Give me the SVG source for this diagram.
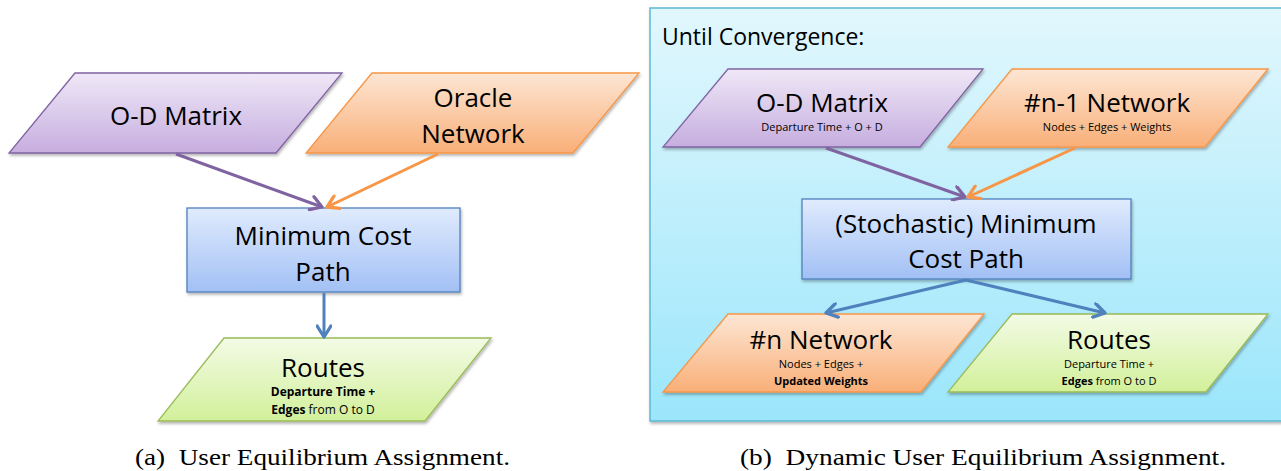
<svg xmlns="http://www.w3.org/2000/svg" width="1281" height="471" viewBox="0 0 1281 471">
<defs>
<linearGradient id="gP" x1="0" y1="0" x2="0" y2="1"><stop offset="0" stop-color="#efe8f7"/><stop offset="1" stop-color="#c6addf"/></linearGradient>
<linearGradient id="gO" x1="0" y1="0" x2="0" y2="1"><stop offset="0" stop-color="#fde6d4"/><stop offset="1" stop-color="#f9af78"/></linearGradient>
<linearGradient id="gB" x1="0" y1="0" x2="0" y2="1"><stop offset="0" stop-color="#e0ebfd"/><stop offset="1" stop-color="#a2c0f5"/></linearGradient>
<linearGradient id="gG" x1="0" y1="0" x2="0" y2="1"><stop offset="0" stop-color="#f3fbe6"/><stop offset="1" stop-color="#d2f09a"/></linearGradient>
<linearGradient id="gC" x1="0" y1="0" x2="0" y2="1"><stop offset="0" stop-color="#e2f7fd"/><stop offset="1" stop-color="#9be6fb"/></linearGradient>
<filter id="sh" x="-5%" y="-5%" width="115%" height="120%"><feDropShadow dx="1" dy="2" stdDeviation="1.5" flood-color="#000" flood-opacity="0.3"/></filter>
<marker id="aP" viewBox="0 0 12 12" refX="10" refY="6" markerWidth="5.5" markerHeight="5.5" markerUnits="strokeWidth" orient="auto"><path d="M2,1 L10,6 L2,11" fill="none" stroke="#8064a2" stroke-width="2.4" stroke-linecap="round" stroke-linejoin="round"/></marker>
<marker id="aO" viewBox="0 0 12 12" refX="10" refY="6" markerWidth="5.5" markerHeight="5.5" markerUnits="strokeWidth" orient="auto"><path d="M2,1 L10,6 L2,11" fill="none" stroke="#f79646" stroke-width="2.4" stroke-linecap="round" stroke-linejoin="round"/></marker>
<marker id="aB" viewBox="0 0 12 12" refX="10" refY="6" markerWidth="5.5" markerHeight="5.5" markerUnits="strokeWidth" orient="auto"><path d="M2,1 L10,6 L2,11" fill="none" stroke="#4f81bd" stroke-width="2.4" stroke-linecap="round" stroke-linejoin="round"/></marker>
</defs>
<style>
text{font-family:"Open Sans","Liberation Sans",sans-serif;fill:#000;text-anchor:middle}
.big{font-size:26px}
.sm{font-size:11px}
.sm12{font-size:12px}
.b{font-weight:bold}
.cap{font-family:"Liberation Serif",serif;font-size:23px;text-anchor:start;white-space:pre}
.pP{fill:url(#gP);stroke:#8064a2;stroke-width:1.3;filter:url(#sh)}
.pO{fill:url(#gO);stroke:#f79646;stroke-width:1.3;filter:url(#sh)}
.pB{fill:url(#gB);stroke:#4f81bd;stroke-width:1.3;filter:url(#sh)}
.pG{fill:url(#gG);stroke:#9bbb59;stroke-width:1.3;filter:url(#sh)}
.cP{stroke:#8064a2;stroke-width:3;fill:none;marker-end:url(#aP)}
.cO{stroke:#f79646;stroke-width:3;fill:none;marker-end:url(#aO)}
.cB{stroke:#4f81bd;stroke-width:3;fill:none;marker-end:url(#aB)}
</style>
<rect width="1281" height="471" fill="#fff"/>

<!-- panel a -->
<g id="a-od">
<polygon class="pP" points="75,73 342,73 276,153 9,153"/>
<text class="big" x="176" y="125">O-D Matrix</text>
</g>
<g id="a-oracle">
<polygon class="pO" points="372,73 639,73 573,153 306,153"/>
<text class="big" x="473" y="107">Oracle</text>
<text class="big" x="473" y="143">Network</text>
</g>
<g id="a-mcp">
<rect class="pB" x="187" y="208" width="273" height="84"/>
<text class="big" x="323" y="245">Minimum Cost</text>
<text class="big" x="323" y="281">Path</text>
</g>
<g id="a-routes">
<polygon class="pG" points="224,338 491,338 425,421 158,421"/>
<text class="big" x="323" y="377">Routes</text>
<text class="sm12 b" x="323" y="396">Departure Time +</text>
<text class="sm12" x="323" y="414"><tspan class="b">Edges</tspan> from O to D</text>
</g>

<!-- panel b -->
<g id="b-panel">
<rect x="650" y="8" width="632" height="413" fill="url(#gC)" stroke="#5db9d3" stroke-width="1.5" filter="url(#sh)"/>
<text x="662" y="45" style="font-size:23px;text-anchor:start">Until Convergence:</text>
</g>
<g id="b-od">
<polygon class="pP" points="728,69 983,69 920,147 663,147"/>
<text class="big" x="822" y="112">O-D Matrix</text>
<text class="sm" x="822" y="131">Departure Time + O + D</text>
</g>
<g id="b-net1">
<polygon class="pO" points="1012,69 1268,69 1205,147 948,147"/>
<text class="big" x="1107" y="112">#n-1 Network</text>
<text class="sm" x="1107" y="131">Nodes + Edges + Weights</text>
</g>
<g id="b-mcp">
<rect class="pB" x="802" y="199" width="329" height="80"/>
<text class="big" x="966" y="233">(Stochastic) Minimum</text>
<text class="big" x="966" y="268">Cost Path</text>
</g>
<g id="b-netn">
<polygon class="pO" points="728,314 984,314 921,392 663,392"/>
<text class="big" x="821" y="349">#n Network</text>
<text class="sm" x="821" y="368">Nodes + Edges +</text>
<text class="sm b" x="821" y="385">Updated Weights</text>
</g>
<g id="b-routes">
<polygon class="pG" points="1012,314 1268,314 1206,392 948,392"/>
<text class="big" x="1109" y="349">Routes</text>
<text class="sm" x="1109" y="368">Departure Time +</text>
<text class="sm" x="1109" y="385"><tspan class="b">Edges</tspan> from O to D</text>
</g>

<g id="connectors">
<line class="cP" x1="176" y1="154" x2="322" y2="207"/>
<line class="cO" x1="438" y1="154" x2="327" y2="207"/>
<line class="cB" x1="324" y1="293" x2="324" y2="337"/>
<line class="cP" x1="826" y1="148" x2="965" y2="197"/>
<line class="cO" x1="1075" y1="148" x2="968" y2="197"/>
<line class="cB" x1="966" y1="280" x2="826" y2="313"/>
<line class="cB" x1="966" y1="280" x2="1105" y2="313"/>
</g>

<text class="cap" x="135" y="465" textLength="375" lengthAdjust="spacingAndGlyphs">(a)&#160;&#160;User Equilibrium Assignment.</text>
<text class="cap" x="740" y="465" textLength="486" lengthAdjust="spacingAndGlyphs">(b)&#160;&#160;Dynamic User Equilibrium Assignment.</text>
</svg>
